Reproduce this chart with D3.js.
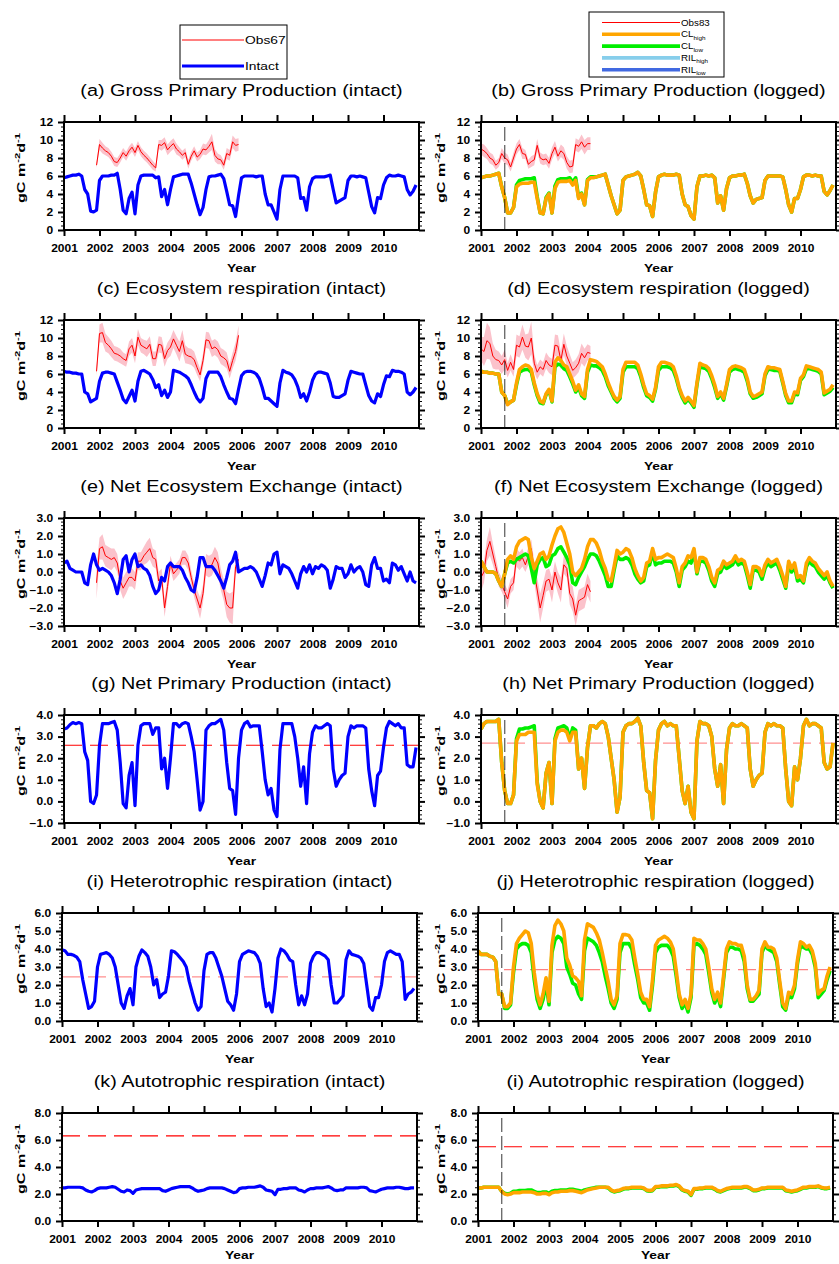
<!DOCTYPE html>
<html lang="en">
<head>
<meta charset="UTF-8">
<title>Carbon fluxes - intact and logged forest</title>
<script src="https://d3js.org/d3.v7.min.js"></script>
<style>
  body {margin:0;background:#fff;}
  svg text {font-family:"Liberation Sans", Arial, Helvetica, sans-serif;fill:#000;}
  .tick text {font-size:10px;font-weight:bold;}
  .title {font-size:16.5px;}
  .axis-title {font-size:11.5px;font-weight:bold;}
  .ylab {font-size:11.5px;font-weight:bold;}
</style>
</head>
<body>
<svg id="chart" width="839" height="1264"></svg>
<script>
// ---- data (monthly, Jan 2001 .. Dec 2010) ----
const months = d3.range(120).map(i => 2001 + i / 12);
const years = d3.range(2001, 2011);
const loggingDate = 2001.67;

const gppIntact = [
  5.8,5.9,6.0,6.1,6.1,6.2,6.0,4.5,4.0,2.1,2.0,2.2,
  5.5,6.0,6.0,6.0,6.1,6.1,6.3,4.5,2.2,1.8,3.5,4.2,
  1.8,5.0,6.0,6.1,6.1,6.1,6.1,5.8,5.9,3.7,4.5,2.8,
  4.5,5.9,6.0,6.1,6.2,6.2,6.2,5.2,4.0,2.8,1.7,2.5,
  4.5,5.9,6.0,6.0,6.1,6.2,5.7,4.3,2.8,2.7,1.5,3.8,
  5.8,6.0,6.0,6.0,6.0,5.9,6.0,6.0,4.0,2.8,2.8,2.0,
  1.2,4.5,6.0,6.0,6.0,6.0,6.0,5.8,3.5,3.6,2.2,4.8,
  5.7,5.9,5.9,5.9,5.9,6.0,6.1,4.5,3.0,3.2,3.4,3.6,
  5.5,6.0,6.0,5.9,6.0,5.9,5.8,4.2,2.6,1.9,3.6,3.5,
  5.0,5.8,6.1,6.0,6.0,6.1,6.0,5.9,4.5,3.9,4.3,5.0];
const gppLoggedHigh = [
  5.8,5.9,6.0,6.0,6.1,6.2,6.3,4.8,3.6,1.9,1.9,2.5,
  4.8,5.1,5.2,5.2,5.2,5.3,5.3,3.5,1.9,1.8,3.5,4.0,
  1.9,4.6,5.3,5.4,5.4,5.4,5.5,5.0,5.5,3.5,4.0,2.8,
  5.5,5.8,5.8,5.9,6.0,6.1,6.2,5.0,3.8,2.8,1.8,2.2,
  5.5,5.9,6.0,6.1,6.2,6.4,6.0,4.5,2.8,2.7,1.5,4.2,
  5.9,6.1,6.2,6.1,6.1,6.1,6.2,6.1,4.0,2.8,2.6,1.6,
  1.2,4.8,6.0,6.0,6.1,6.0,6.1,5.8,3.0,3.8,2.2,4.6,
  5.8,6.0,6.0,6.1,6.1,6.2,5.2,3.8,3.0,3.4,3.5,3.6,
  5.5,6.0,6.0,6.0,6.0,6.0,5.9,4.5,2.8,2.0,3.5,3.5,
  4.5,5.9,6.1,6.1,6.0,6.1,6.0,6.0,4.3,3.9,4.4,5.0];
const gppLoggedLow = [
  5.8,5.9,6.0,6.0,6.1,6.2,6.3,4.8,3.6,1.9,1.9,2.5,
  5.0,5.5,5.6,5.7,5.7,5.7,5.8,3.7,1.9,1.8,3.6,4.1,
  1.9,4.9,5.6,5.7,5.7,5.7,5.8,5.3,5.8,3.6,4.1,2.8,
  5.6,5.9,5.9,5.9,6.0,6.1,6.2,5.0,3.8,2.8,1.8,2.2,
  5.5,5.9,6.0,6.1,6.2,6.4,6.0,4.5,2.8,2.7,1.5,4.2,
  5.9,6.1,6.2,6.1,6.1,6.1,6.2,6.1,4.0,2.8,2.6,1.6,
  1.2,4.8,6.0,6.0,6.1,6.0,6.1,5.8,3.0,3.8,2.2,4.6,
  5.8,6.0,6.0,6.1,6.1,6.2,5.2,3.8,3.0,3.4,3.5,3.6,
  5.5,6.0,6.0,6.0,6.0,6.0,5.9,4.5,2.8,2.0,3.5,3.5,
  4.5,5.9,6.1,6.1,6.0,6.1,6.0,6.0,4.3,3.9,4.4,5.0];
const gppObs67 = [7.2,9.5,9.1,8.8,8.6,8.2,7.6,7.5,8.0,8.6,8.2,8.8,9.2,8.6,9.4,8.7,8.3,8.0,7.6,7.2,6.9,9.5,9.4,9.7,8.9,
  9.3,9.6,9.0,8.7,8.3,8.6,7.3,8.2,8.8,8.1,8.4,9.0,8.9,9.3,9.8,8.3,7.9,7.8,7.2,8.5,8.3,9.8,9.4,9.5];
const gppObs67Sd = [0.3,0.6,0.6,0.5,0.5,0.5,0.5,0.5,0.5,0.5,0.5,0.5,0.5,0.5,0.5,0.5,0.5,0.5,0.5,0.5,0.4,0.5,0.6,0.6,0.6,
  0.6,0.6,0.6,0.5,0.5,0.5,0.5,0.5,0.5,0.5,0.5,0.6,0.6,0.7,0.9,0.7,0.6,0.5,0.5,0.6,0.6,0.7,0.7,0.7];
const gppObs83 = [9.0,8.8,8.5,8.0,7.8,7.2,7.5,8.5,8.0,7.8,7.0,8.0,9.0,9.5,8.5,8.4,7.3,7.6,7.8,
  9.4,8.0,7.8,7.9,7.4,8.5,9.2,8.2,8.8,8.5,7.5,7.0,7.1,9.5,9.3,9.8,9.2,9.6,9.6];
const gppObs83Sd = [0.6,0.7,0.6,0.6,0.6,0.5,0.5,0.6,0.6,0.6,0.5,0.6,0.6,0.6,0.6,0.5,0.5,0.6,0.6,
  0.7,0.6,0.6,0.6,0.6,0.7,0.7,0.6,0.7,0.7,0.7,0.7,0.7,0.7,0.7,0.8,0.8,0.7,0.7];

const recoIntact = [
  6.3,6.2,6.2,6.1,6.1,6.0,6.0,4.0,3.8,2.9,3.1,3.3,
  5.2,6.1,6.2,6.2,6.1,6.0,5.1,4.2,3.2,2.8,3.5,4.2,
  3.0,5.2,6.3,6.4,6.2,6.0,5.4,4.5,4.8,3.6,4.2,3.4,
  4.0,6.4,6.3,6.2,6.0,5.8,5.5,4.8,4.0,3.3,2.9,3.3,
  5.5,6.2,6.2,6.2,6.2,5.7,4.8,4.0,3.3,3.2,2.7,4.3,
  5.8,6.2,6.3,6.3,6.2,6.0,5.5,4.5,3.3,3.3,3.0,2.7,
  2.4,5.0,6.4,6.2,6.1,5.9,5.4,4.6,3.4,3.8,3.0,4.0,
  5.3,6.0,6.2,6.2,6.1,6.0,5.0,3.5,3.4,3.4,3.6,3.8,
  5.3,6.3,6.2,6.1,6.0,6.0,4.8,3.6,3.0,2.8,3.8,3.5,
  4.8,5.8,5.7,6.4,6.3,6.3,6.2,6.0,4.0,3.7,4.0,4.5];
const recoLoggedHigh = [
  6.3,6.2,6.2,6.1,6.1,6.0,6.0,4.0,3.6,2.6,2.9,3.1,
  5.0,6.5,6.8,7.0,6.9,6.5,5.0,3.8,3.0,2.8,3.8,4.3,
  3.0,7.3,7.8,7.5,7.0,6.8,6.0,5.2,4.2,4.8,3.8,3.5,
  6.5,7.6,7.5,7.4,7.1,6.8,6.0,5.0,4.2,3.5,3.1,3.5,
  6.5,7.3,7.3,7.3,7.3,7.0,6.0,4.8,3.8,3.6,3.2,4.5,
  6.8,7.3,7.3,7.2,7.1,6.8,5.8,4.5,3.6,3.0,3.4,3.0,
  2.5,5.0,7.2,7.0,6.9,6.6,5.8,4.8,3.5,4.0,3.3,4.8,
  6.5,6.8,6.9,6.8,6.7,6.5,5.5,4.0,3.5,3.6,3.8,4.0,
  6.0,6.8,6.7,6.7,6.6,6.5,5.2,3.8,3.0,3.0,4.0,3.9,
  5.5,5.9,6.9,6.8,6.7,6.6,6.5,6.2,3.9,4.1,4.3,4.8];
const recoLoggedLow = [
  6.3,6.2,6.2,6.1,6.1,6.0,6.0,4.0,3.6,2.7,2.9,3.1,
  4.8,6.2,6.4,6.5,6.5,6.2,4.8,3.6,2.8,2.7,3.7,4.2,
  2.9,6.8,7.1,7.0,6.6,6.4,5.7,4.9,4.0,4.5,3.6,3.3,
  6.2,7.0,6.9,6.9,6.7,6.4,5.7,4.7,4.0,3.3,2.9,3.3,
  6.2,6.8,6.8,6.8,6.8,6.6,5.7,4.5,3.6,3.4,3.0,4.3,
  6.4,6.8,6.8,6.8,6.7,6.4,5.5,4.3,3.4,2.8,3.2,2.8,
  2.3,4.8,6.8,6.7,6.6,6.3,5.5,4.5,3.3,3.8,3.1,4.6,
  6.2,6.5,6.6,6.5,6.4,6.2,5.2,3.8,3.3,3.4,3.6,3.8,
  5.8,6.5,6.5,6.4,6.4,6.3,5.0,3.6,2.8,2.8,3.8,3.7,
  5.3,5.7,6.6,6.6,6.5,6.4,6.3,6.0,3.7,3.9,4.1,4.5];
const recoObs67 = [6.3,10.5,10.6,9.5,9.2,8.8,8.3,8.2,8.0,7.7,7.5,8.8,9.2,8.0,10.1,9.2,9.0,8.8,9.3,7.7,7.7,9.3,9.2,7.7,8.6,
  9.0,9.9,9.2,8.5,9.7,8.2,8.0,7.9,7.6,6.7,5.9,7.5,9.8,9.7,8.8,9.0,8.7,8.0,7.8,7.5,6.3,7.5,8.5,10.3];
const recoObs67Sd = [0.5,1.0,1.1,1.0,0.9,0.9,0.8,0.8,0.8,0.7,0.7,0.8,0.8,0.8,0.9,0.8,0.8,0.9,0.9,0.8,0.8,0.9,0.9,0.9,0.9,
  1.0,1.0,1.0,1.1,1.2,1.0,0.9,0.9,0.9,0.8,0.7,0.8,0.9,0.9,0.9,0.9,0.9,0.9,0.9,0.9,0.8,0.9,1.0,1.1];
const recoObs83 = [8.8,8.5,9.7,9.4,8.0,7.6,7.5,7.0,7.6,6.4,7.3,6.5,9.2,9.0,10.1,9.1,9.0,10.0,7.2,
  6.2,6.8,6.5,7.5,7.0,6.8,9.2,9.1,7.5,9.3,8.0,7.2,6.4,6.7,7.2,8.3,7.8,8.4,8.3];
const recoObs83Sd = [1.3,1.6,2.0,1.8,1.4,1.1,1.0,1.0,1.1,0.8,0.9,0.8,1.2,1.2,1.4,1.3,1.5,1.8,1.0,
  0.8,0.8,0.8,0.9,0.9,0.9,1.2,1.2,1.0,1.2,1.1,1.0,0.9,0.9,1.0,1.1,1.0,0.9,0.8];

const neeIntact = [
  0.5,0.6,0.2,0.1,0.0,0.0,0.0,-0.6,-0.7,0.4,1.0,0.4,
  0.1,0.2,0.1,0.0,-0.2,-0.6,-1.2,-0.4,0.7,0.9,0.0,0.7,
  1.0,0.3,0.4,0.2,0.1,-0.2,-0.8,-1.2,-1.0,-0.3,-0.5,0.3,
  0.5,0.3,0.3,0.3,0.1,-0.3,-0.6,-1.0,-1.1,-0.3,0.8,0.8,
  0.3,0.3,0.3,0.1,-0.2,-0.5,-0.9,-0.3,0.4,0.6,1.1,0.0,
  0.1,0.2,0.2,0.3,0.2,0.0,-0.4,-0.8,-0.2,0.5,0.4,1.0,
  1.1,-0.1,0.4,0.3,0.2,-0.1,-0.5,-0.9,-0.1,0.3,0.0,0.4,
  -0.1,0.3,0.2,0.4,0.3,0.1,-0.9,-0.4,0.3,0.2,0.2,-0.3,
  -0.1,0.4,0.0,0.2,0.3,0.0,-0.7,-0.8,0.4,0.8,0.2,0.2,
  -0.5,-0.4,-0.6,0.5,0.4,0.1,0.3,-0.1,-0.5,0.0,-0.5,-0.6];
const neeLoggedHigh = [
  0.6,0.3,0.0,0.0,0.0,-0.1,-0.5,-0.8,-0.1,0.7,0.9,0.7,
  1.4,1.7,1.8,1.9,1.8,0.8,0.2,0.6,1.0,1.1,0.7,0.9,
  1.5,2.0,2.4,2.5,2.2,1.6,1.0,0.0,-0.2,0.0,0.2,0.7,
  1.4,1.8,1.8,1.6,1.2,0.6,0.2,-0.4,-0.5,0.3,1.2,1.0,
  1.1,1.3,1.2,0.8,0.2,-0.2,-0.5,-0.3,0.5,0.6,1.3,0.7,
  0.8,0.8,0.9,1.0,0.9,0.8,0.2,-0.6,0.3,0.5,0.9,0.8,
  1.3,0.0,0.8,0.8,0.7,0.3,-0.3,-0.6,0.1,0.2,0.6,0.4,
  0.5,0.6,0.9,0.6,0.7,0.6,0.0,-0.7,0.3,0.3,0.2,-0.2,
  0.4,0.7,0.5,0.6,0.7,0.3,-0.2,-0.8,0.6,0.2,0.5,-0.3,
  -0.2,-0.5,0.5,0.8,0.6,0.5,0.2,0.0,-0.2,0.0,-0.5,-0.8];
const neeLoggedLow = [
  0.6,0.3,0.0,0.0,0.0,-0.1,-0.5,-0.8,-0.1,0.5,0.6,0.5,
  0.7,0.8,0.9,1.0,0.9,0.2,-0.6,0.4,0.7,0.8,0.3,0.4,
  0.9,1.0,1.3,1.4,1.1,0.8,0.4,-0.6,-0.7,-0.3,0.0,0.3,
  0.7,1.0,1.0,0.9,0.6,0.2,-0.2,-0.8,-0.8,0.1,0.9,0.7,
  0.7,0.8,0.7,0.4,-0.1,-0.4,-0.6,-0.5,0.3,0.4,1.1,0.4,
  0.5,0.5,0.6,0.6,0.6,0.5,0.0,-0.8,0.1,0.3,0.6,0.5,
  1.1,-0.1,0.6,0.6,0.5,0.1,-0.5,-0.8,-0.1,0.0,0.4,0.2,
  0.3,0.4,0.7,0.4,0.5,0.4,-0.2,-0.9,0.1,0.1,0.0,-0.4,
  0.2,0.5,0.3,0.4,0.5,0.1,-0.4,-0.9,0.4,0.0,0.3,-0.5,
  -0.4,-0.6,0.3,0.6,0.4,0.3,0.0,-0.2,-0.4,-0.2,-0.6,-0.9];
const neeObs67 = [-0.6,1.3,1.4,0.9,0.8,0.7,0.8,0.5,-0.5,-0.9,-0.6,-0.3,-0.3,-0.5,0.6,0.6,0.9,1.1,1.3,0.8,0.7,-0.5,-0.3,-2.0,-0.8,
  0.5,-0.1,0.1,0.3,0.8,0.8,0.5,-0.3,-1.0,-1.5,-2.0,-1.2,0.4,0.3,0.4,0.8,0.5,-0.4,-1.0,-1.8,-2.0,-2.0,0.3,0.7];
const neeObs67Sd = [0.9,0.6,0.7,0.6,0.6,0.6,0.5,0.5,0.5,0.6,0.6,0.5,0.5,0.5,0.5,0.5,0.5,0.6,0.6,0.5,0.5,0.5,0.5,0.5,0.5,
  0.4,0.4,0.4,0.4,0.4,0.4,0.4,0.4,0.4,0.5,0.6,0.5,0.6,0.6,0.6,0.6,0.6,0.6,0.6,0.7,0.8,0.9,0.5,0.4];
const neeObs83 = [-0.3,0.0,1.2,1.7,1.0,0.3,-0.4,-0.7,-1.1,-1.5,-0.8,-0.6,0.8,0.6,0.8,0.4,0.9,1.3,0.0,
  -1.0,-2.0,-1.3,-0.5,-0.4,-1.0,0.0,-0.6,-1.0,0.4,0.2,-1.2,-1.5,-2.4,-1.6,-1.5,-1.4,-0.7,-1.1];
const neeObs83Sd = [0.8,0.6,0.6,0.8,0.6,0.5,0.4,0.4,0.4,0.5,0.4,0.4,0.5,0.5,0.5,0.4,0.5,0.5,0.6,
  0.7,0.8,0.7,0.6,0.6,0.7,0.6,0.6,0.7,0.5,0.5,0.6,0.7,0.6,0.6,0.6,0.6,0.6,0.6];

const nppIntact = [
  3.35,3.4,3.55,3.65,3.6,3.65,3.6,2.3,1.9,0.0,-0.1,0.3,
  2.6,3.6,3.6,3.6,3.65,3.7,3.3,1.8,-0.1,-0.3,1.2,1.8,
  -0.2,2.6,3.5,3.6,3.6,3.6,3.1,3.4,3.4,1.5,2.0,0.6,
  2.0,3.6,3.6,3.45,3.6,3.65,3.6,3.0,2.3,1.0,-0.4,0.0,
  3.3,3.5,3.6,3.6,3.7,3.8,3.3,1.8,0.6,0.5,-0.6,2.0,
  3.3,3.6,3.7,3.45,3.5,3.5,3.5,2.3,1.0,0.3,0.6,-0.4,
  -0.7,2.4,3.6,3.6,3.6,3.6,3.0,2.0,0.7,1.6,-0.1,2.2,
  3.2,3.5,3.4,3.4,3.5,3.6,3.5,1.5,0.7,1.0,1.2,1.3,
  3.0,3.5,3.4,3.5,3.5,3.5,3.4,1.5,0.5,-0.2,1.2,1.4,
  2.5,3.4,3.7,3.6,3.5,3.6,3.4,3.4,1.7,1.6,1.6,2.5];
const nppLoggedHigh = [
  3.35,3.6,3.7,3.7,3.7,3.7,3.8,1.8,0.5,-0.1,-0.1,0.3,
  2.8,3.1,3.1,3.1,3.2,3.2,3.2,0.8,0.0,-0.3,1.3,1.8,
  -0.1,2.8,3.2,3.3,3.3,3.2,2.8,3.2,3.2,1.5,2.0,0.6,
  2.5,3.5,3.5,3.4,3.6,3.7,3.6,3.0,2.0,1.0,-0.5,0.2,
  3.2,3.5,3.6,3.6,3.7,3.85,3.5,1.8,0.5,0.4,-0.8,1.9,
  3.3,3.6,3.7,3.5,3.6,3.5,3.5,2.0,0.5,-0.1,0.7,-0.5,
  -0.8,2.8,3.7,3.6,3.6,3.5,3.0,1.5,0.7,1.7,-0.1,2.4,
  3.4,3.6,3.5,3.5,3.6,3.5,3.4,1.5,0.7,1.0,1.2,1.3,
  3.2,3.6,3.5,3.6,3.5,3.5,3.4,1.5,0.0,-0.2,1.6,1.0,
  2.0,3.5,3.8,3.5,3.6,3.6,3.5,3.4,1.8,1.5,1.6,2.7];
const nppLoggedLow = [
  3.35,3.6,3.7,3.7,3.7,3.7,3.8,1.8,0.5,-0.1,-0.1,0.3,
  2.9,3.35,3.35,3.4,3.4,3.45,3.5,0.9,0.0,-0.3,1.3,1.8,
  -0.1,2.9,3.4,3.45,3.5,3.4,2.9,3.4,3.3,1.5,2.0,0.6,
  2.5,3.5,3.5,3.4,3.6,3.7,3.6,3.0,2.0,1.0,-0.5,0.2,
  3.2,3.5,3.6,3.6,3.7,3.85,3.5,1.8,0.5,0.4,-0.8,1.9,
  3.3,3.6,3.7,3.5,3.6,3.5,3.5,2.0,0.5,-0.1,0.7,-0.5,
  -0.8,2.8,3.7,3.6,3.6,3.5,3.0,1.5,0.7,1.7,-0.1,2.4,
  3.4,3.6,3.5,3.5,3.6,3.5,3.4,1.5,0.7,1.0,1.2,1.3,
  3.2,3.6,3.5,3.6,3.5,3.5,3.4,1.5,0.0,-0.2,1.6,1.0,
  2.0,3.5,3.8,3.5,3.6,3.6,3.5,3.4,1.8,1.5,1.6,2.7];

const rhIntact = [
  3.95,3.9,3.7,3.7,3.65,3.55,3.3,2.3,1.5,0.7,0.8,1.1,
  3.0,3.7,3.75,3.8,3.7,3.5,3.0,2.0,1.0,0.7,1.4,1.8,
  0.9,3.0,3.6,3.95,3.8,3.6,3.0,2.0,2.3,1.3,1.5,1.6,
  2.5,3.9,3.85,3.7,3.5,3.3,3.0,2.2,1.6,1.0,0.6,0.8,
  2.8,3.7,3.8,3.8,3.5,3.0,2.5,1.8,1.1,0.9,0.6,1.5,
  3.3,3.7,3.8,3.9,3.85,3.8,3.6,3.2,1.8,0.8,1.0,0.5,
  1.8,3.5,4.0,3.9,3.7,3.4,3.3,2.0,0.9,1.4,0.9,1.5,
  3.2,3.6,3.8,3.8,3.7,3.6,3.4,2.0,1.0,1.0,1.2,1.4,
  3.4,3.9,3.7,3.65,3.6,3.5,3.2,2.0,0.8,0.6,1.3,1.3,
  2.0,3.3,3.8,3.9,3.8,3.7,3.7,3.3,1.2,1.5,1.6,1.8];
const rhLoggedHigh = [
  3.9,3.7,3.7,3.7,3.6,3.55,3.3,1.5,1.5,0.8,0.8,1.0,
  3.0,4.3,4.6,4.8,5.0,4.9,4.3,2.7,1.5,0.9,1.5,2.4,
  1.1,4.2,5.3,5.6,5.4,5.0,3.5,3.1,2.5,2.4,2.2,1.4,
  4.5,5.4,5.3,5.2,4.9,4.5,3.8,3.0,2.2,1.2,0.9,1.4,
  4.3,4.8,4.8,4.75,4.5,3.5,2.6,1.6,1.2,1.2,0.8,2.3,
  4.2,4.5,4.6,4.7,4.6,4.4,4.0,2.8,1.5,0.9,1.2,0.7,
  1.5,4.6,4.5,4.5,4.3,4.0,3.0,1.8,1.2,1.6,1.0,2.5,
  4.0,4.4,4.3,4.3,4.2,4.2,3.6,2.0,1.2,1.2,1.4,1.7,
  4.0,4.4,4.1,4.1,4.0,3.5,2.2,1.0,0.7,1.6,1.5,2.0,
  3.4,4.4,4.3,4.1,4.2,3.9,3.2,1.5,1.7,1.8,2.5,3.0];
const rhLoggedLow = [
  3.9,3.7,3.7,3.7,3.6,3.55,3.3,1.5,1.5,0.7,0.7,0.9,
  2.7,4.0,4.2,4.3,4.3,4.2,3.8,2.3,1.2,0.7,1.2,2.1,
  0.9,3.8,4.5,4.7,4.6,4.3,3.0,2.6,2.1,2.0,1.5,1.2,
  3.9,4.6,4.5,4.4,4.2,3.8,3.3,2.5,1.8,1.0,0.7,1.2,
  3.8,4.3,4.3,4.3,4.0,3.1,2.3,1.3,1.0,1.0,0.6,2.0,
  3.8,4.1,4.2,4.2,4.2,4.0,3.6,2.5,1.3,0.7,1.0,0.5,
  1.3,4.2,4.3,4.2,4.0,3.7,2.7,1.6,1.0,1.4,0.8,2.3,
  3.8,4.1,4.1,4.0,4.0,3.9,3.3,1.8,1.1,1.1,1.3,1.5,
  3.8,4.2,4.0,3.9,3.8,3.3,2.0,0.8,0.6,1.4,1.3,1.8,
  3.2,4.2,4.1,4.0,4.0,3.7,3.0,1.3,1.5,1.7,2.3,2.8];

const raIntact = [
  2.45,2.45,2.5,2.5,2.5,2.5,2.5,2.45,2.3,2.2,2.15,2.25,
  2.4,2.45,2.45,2.45,2.5,2.55,2.5,2.35,2.2,2.15,2.3,2.25,
  2.05,2.3,2.35,2.4,2.4,2.4,2.4,2.4,2.4,2.4,2.25,2.2,
  2.3,2.4,2.45,2.5,2.55,2.55,2.55,2.55,2.45,2.3,2.2,2.25,
  2.3,2.4,2.45,2.45,2.45,2.45,2.45,2.4,2.3,2.2,2.1,2.15,
  2.4,2.45,2.45,2.5,2.5,2.5,2.55,2.6,2.5,2.3,2.25,2.2,
  1.95,2.35,2.35,2.4,2.4,2.45,2.45,2.45,2.3,2.25,2.15,2.3,
  2.4,2.4,2.45,2.45,2.45,2.5,2.55,2.45,2.3,2.25,2.3,2.3,
  2.45,2.45,2.45,2.45,2.45,2.5,2.5,2.45,2.25,2.2,2.15,2.25,
  2.35,2.4,2.45,2.45,2.45,2.5,2.5,2.45,2.4,2.4,2.45,2.45];
const raLoggedHigh = [
  2.45,2.45,2.5,2.5,2.5,2.5,2.5,2.5,2.2,2.0,1.95,2.0,
  2.1,2.1,2.1,2.15,2.15,2.15,2.15,2.1,2.0,2.0,2.05,2.05,
  1.95,2.1,2.15,2.15,2.2,2.2,2.2,2.25,2.25,2.2,2.15,2.1,
  2.2,2.3,2.35,2.4,2.45,2.5,2.5,2.5,2.5,2.3,2.2,2.25,
  2.3,2.4,2.45,2.45,2.5,2.5,2.5,2.5,2.45,2.3,2.25,2.3,
  2.55,2.55,2.6,2.6,2.6,2.65,2.65,2.7,2.6,2.35,2.25,2.2,
  1.95,2.4,2.4,2.45,2.45,2.5,2.5,2.5,2.4,2.25,2.2,2.3,
  2.4,2.45,2.5,2.5,2.5,2.5,2.55,2.55,2.45,2.3,2.3,2.35,
  2.45,2.45,2.5,2.5,2.5,2.5,2.5,2.5,2.3,2.25,2.2,2.25,
  2.3,2.4,2.5,2.5,2.55,2.55,2.55,2.6,2.5,2.45,2.45,2.5];
const raLoggedLow = [
  2.45,2.45,2.5,2.5,2.5,2.5,2.5,2.5,2.2,2.05,2.0,2.05,
  2.2,2.2,2.25,2.25,2.25,2.3,2.3,2.2,2.1,2.1,2.15,2.15,
  2.05,2.2,2.25,2.25,2.3,2.3,2.3,2.35,2.35,2.3,2.25,2.2,
  2.3,2.35,2.4,2.45,2.5,2.5,2.5,2.5,2.45,2.25,2.15,2.2,
  2.25,2.35,2.4,2.4,2.45,2.45,2.45,2.45,2.4,2.25,2.2,2.25,
  2.5,2.5,2.55,2.55,2.55,2.6,2.6,2.65,2.55,2.3,2.2,2.15,
  1.9,2.35,2.35,2.4,2.4,2.45,2.45,2.45,2.35,2.2,2.15,2.25,
  2.35,2.4,2.45,2.45,2.45,2.45,2.5,2.5,2.4,2.25,2.25,2.3,
  2.4,2.4,2.45,2.45,2.45,2.45,2.45,2.45,2.25,2.2,2.15,2.2,
  2.25,2.35,2.45,2.45,2.5,2.5,2.5,2.55,2.45,2.4,2.4,2.45];

// long-term reference levels (dashed red)
const refLevels = {g: 2.6, h: 2.7, i: 2.45, j: 2.85, k: 6.3, l: 5.5};

const obs67Months = months.slice(11, 60);
const obs83Months = months.slice(0, 38);

// ---- styling ----
const BLUE = "#0000ff", ORANGE = "#ffa500", GREEN = "#00ee00", RED = "#ff0000",
      BAND = "#fbc2cb", SKY = "#87ceeb", ROYAL = "#4169e1";
const SX = 1.2; // horizontal stretch of the lettering

const svg = d3.select("#chart");
const rowTop = [122, 320, 518, 715, 913, 1113];
const plotH = 108;

const panels = [
  {id:"a", row:0, col:0, title:"(a) Gross Primary Production (intact)", yd:[0,12], step:2, minor:0.5, fmt:"d",
   lines:[{v:gppIntact, c:BLUE}], obs:{t:obs67Months, v:gppObs67, sd:gppObs67Sd}},
  {id:"b", row:0, col:1, title:"(b) Gross Primary Production (logged)", yd:[0,12], step:2, minor:0.5, fmt:"d",
   lines:[{v:gppLoggedLow, c:GREEN},{v:gppLoggedHigh, c:ORANGE}], obs:{t:obs83Months, v:gppObs83, sd:gppObs83Sd}, logged:true},
  {id:"c", row:1, col:0, title:"(c) Ecosystem respiration (intact)", yd:[0,12], step:2, minor:0.5, fmt:"d",
   lines:[{v:recoIntact, c:BLUE}], obs:{t:obs67Months, v:recoObs67, sd:recoObs67Sd}},
  {id:"d", row:1, col:1, title:"(d) Ecosystem respiration (logged)", yd:[0,12], step:2, minor:0.5, fmt:"d",
   lines:[{v:recoLoggedLow, c:GREEN},{v:recoLoggedHigh, c:ORANGE}], obs:{t:obs83Months, v:recoObs83, sd:recoObs83Sd}, logged:true},
  {id:"e", row:2, col:0, title:"(e) Net Ecosystem Exchange (intact)", yd:[-3,3], step:1, minor:0.2, fmt:".1f",
   lines:[{v:neeIntact, c:BLUE}], obs:{t:obs67Months, v:neeObs67, sd:neeObs67Sd}},
  {id:"f", row:2, col:1, title:"(f) Net Ecosystem Exchange (logged)", yd:[-3,3], step:1, minor:0.2, fmt:".1f",
   lines:[{v:neeLoggedLow, c:GREEN},{v:neeLoggedHigh, c:ORANGE}], obs:{t:obs83Months, v:neeObs83, sd:neeObs83Sd}, logged:true},
  {id:"g", row:3, col:0, title:"(g) Net Primary Production (intact)", yd:[-1,4], step:1, minor:0.2, fmt:".1f",
   lines:[{v:nppIntact, c:BLUE}], ref:{v:refLevels.g, c:RED}},
  {id:"h", row:3, col:1, title:"(h) Net Primary Production (logged)", yd:[-1,4], step:1, minor:0.2, fmt:".1f",
   lines:[{v:nppLoggedLow, c:GREEN},{v:nppLoggedHigh, c:ORANGE}], ref:{v:refLevels.h, c:"#ff9090"}, logged:true},
  {id:"i", row:4, col:0, title:"(i) Heterotrophic respiration (intact)", yd:[0,6], step:1, minor:0.2, fmt:".1f",
   lines:[{v:rhIntact, c:BLUE}], ref:{v:refLevels.i, c:"#ff9090"}},
  {id:"j", row:4, col:1, title:"(j) Heterotrophic respiration (logged)", yd:[0,6], step:1, minor:0.2, fmt:".1f",
   lines:[{v:rhLoggedLow, c:GREEN},{v:rhLoggedHigh, c:ORANGE}], ref:{v:refLevels.j, c:"#ff8080"}, logged:true},
  {id:"k", row:5, col:0, title:"(k) Autotrophic respiration (intact)", yd:[0,8], step:2, minor:0.5, fmt:".1f",
   lines:[{v:raIntact, c:BLUE}], ref:{v:refLevels.k, c:RED}},
  {id:"l", row:5, col:1, title:"(i) Autotrophic respiration (logged)", yd:[0,8], step:2, minor:0.5, fmt:".1f",
   lines:[{v:raLoggedLow, c:GREEN},{v:raLoggedHigh, c:ORANGE}], ref:{v:refLevels.l, c:RED}, logged:true}
];

function stretched(g, x, y, str, cls, anchor) {
  return g.append("text").attr("class", cls).attr("text-anchor", anchor)
    .attr("transform", `translate(${x},${y}) scale(${SX},1)`).text(str);
}

function drawPanel(p) {
  const left = p.col === 0 ? (p.row >= 4 ? 62 : 64) : (p.row >= 4 ? 478 : 481);
  const right = left + 355;
  const top = rowTop[p.row], bottom = top + plotH;
  const x = d3.scaleLinear().domain([2001, 2011]).range([left, right]);
  const y = d3.scaleLinear().domain(p.yd).range([bottom, top]);
  const g = svg.append("g").attr("class", "panel-" + p.id);

  g.append("clipPath").attr("id", "clip-" + p.id)
    .append("rect").attr("x", left).attr("y", top).attr("width", right - left).attr("height", plotH);
  const plot = g.append("g").attr("clip-path", `url(#clip-${p.id})`);

  if (p.obs) {
    const band = d3.area()
      .x((d, i) => x(p.obs.t[i]))
      .y0((d, i) => y(d - p.obs.sd[i]))
      .y1((d, i) => y(d + p.obs.sd[i]));
    plot.append("path").datum(p.obs.v).attr("d", band).attr("fill", BAND);
    plot.append("path").datum(p.obs.v)
      .attr("d", d3.line().x((d, i) => x(p.obs.t[i])).y(d => y(d)))
      .attr("fill", "none").attr("stroke", RED).attr("stroke-width", 1);
  }
  if (p.ref) {
    plot.append("line").attr("x1", left).attr("x2", right)
      .attr("y1", y(p.ref.v)).attr("y2", y(p.ref.v))
      .attr("stroke", p.ref.c).attr("stroke-width", 1.2).attr("stroke-dasharray", "18,8");
  }
  const line = d3.line().x((d, i) => x(months[i])).y(d => y(d));
  p.lines.forEach(s => {
    plot.append("path").datum(s.v).attr("d", line)
      .attr("fill", "none").attr("stroke", s.c)
      .attr("stroke-width", s.c === BLUE ? 3.2 : 3.6)
      .attr("stroke-linejoin", "round");
  });
  if (p.logged) {
    plot.append("line").attr("x1", x(loggingDate)).attr("x2", x(loggingDate))
      .attr("y1", top + 5).attr("y2", bottom)
      .attr("stroke", "#000").attr("stroke-width", 0.8).attr("stroke-dasharray", "14,4");
  }

  // axes: ticks point outward on all four sides
  const yTicks = d3.range(p.yd[0], p.yd[1] + 1e-9, p.step);
  const yMinor = d3.range(p.yd[0], p.yd[1] + 1e-9, p.minor).filter(v => !yTicks.some(t => Math.abs(t - v) < 1e-6));
  const fmt = d3.format(p.fmt);

  const axB = g.append("g").attr("transform", `translate(0,${bottom})`)
    .call(d3.axisBottom(x).tickValues(years).tickSize(6).tickSizeOuter(0).tickPadding(9).tickFormat(d3.format("d")));
  const axT = g.append("g").attr("transform", `translate(0,${top})`)
    .call(d3.axisTop(x).tickValues(years).tickSize(7).tickSizeOuter(0).tickFormat(""));
  const axL = g.append("g").attr("transform", `translate(${left},0)`)
    .call(d3.axisLeft(y).tickValues(yTicks).tickSize(6).tickSizeOuter(0).tickPadding(3).tickFormat(fmt));
  const axR = g.append("g").attr("transform", `translate(${right},0)`)
    .call(d3.axisRight(y).tickValues(yTicks).tickSize(6).tickSizeOuter(0).tickFormat(""));
  g.append("g").attr("transform", `translate(${left},0)`)
    .call(d3.axisLeft(y).tickValues(yMinor).tickSize(3).tickSizeOuter(0).tickFormat(""));
  g.append("g").attr("transform", `translate(${right},0)`)
    .call(d3.axisRight(y).tickValues(yMinor).tickSize(3).tickSizeOuter(0).tickFormat(""));
  g.selectAll(".domain").remove();
  [axB, axT, axL, axR].forEach(a => a.selectAll(".tick line").attr("stroke-width", 2));
  axB.selectAll(".tick text").attr("transform", `scale(${SX},1)`);
  axL.selectAll(".tick text").attr("transform", `scale(${SX},1)`);

  g.append("rect").attr("x", left).attr("y", top).attr("width", right - left).attr("height", plotH)
    .attr("fill", "none").attr("stroke", "#000").attr("stroke-width", 2);

  const cx = (left + right) / 2;
  stretched(g, cx, top - 26, p.title, "title", "middle");
  stretched(g, cx, bottom + (p.row === 5 ? 38 : 42), "Year", "axis-title", "middle");

  const yl = g.append("text").attr("class", "ylab").attr("text-anchor", "middle")
    .attr("transform", `translate(${p.col === 0 ? 25 : 445},${(top + bottom) / 2 - 8}) rotate(-90)`)
    .attr("textLength", 70).attr("lengthAdjust", "spacingAndGlyphs");
  yl.append("tspan").text("gC m");
  yl.append("tspan").attr("dy", -5).attr("font-size", "8px").text("-2");
  yl.append("tspan").attr("dy", 5).text("d");
  yl.append("tspan").attr("dy", -5).attr("font-size", "8px").text("-1");
}

panels.forEach(drawPanel);

// ---- legends ----
const legendIntact = [
  {label:"Obs67", c:RED, w:1},
  {label:"Intact", c:BLUE, w:3.2}
];
const lg1 = svg.append("g");
lg1.append("rect").attr("x", 180).attr("y", 25).attr("width", 107).attr("height", 54)
  .attr("fill", "#fff").attr("stroke", "#000").attr("stroke-width", 1);
legendIntact.forEach((d, i) => {
  const yy = 40 + i * 26;
  lg1.append("line").attr("x1", 182).attr("x2", 244).attr("y1", yy).attr("y2", yy)
    .attr("stroke", d.c).attr("stroke-width", d.w);
  lg1.append("text").attr("transform", `translate(245,${yy + 4}) scale(${SX},1)`)
    .attr("font-size", "11.5px").text(d.label);
});

const legendLogged = [
  {label:"Obs83", sub:"", c:RED, w:1},
  {label:"CL", sub:"high", c:ORANGE, w:3.6},
  {label:"CL", sub:"low", c:GREEN, w:3.6},
  {label:"RIL", sub:"high", c:SKY, w:3.6},
  {label:"RIL", sub:"low", c:ROYAL, w:3.6}
];
const lg2 = svg.append("g");
lg2.append("rect").attr("x", 589).attr("y", 12).attr("width", 135).attr("height", 65)
  .attr("fill", "#fff").attr("stroke", "#000").attr("stroke-width", 1);
legendLogged.forEach((d, i) => {
  const yy = 22.5 + i * 11.8;
  lg2.append("line").attr("x1", 602).attr("x2", 680).attr("y1", yy).attr("y2", yy)
    .attr("stroke", d.c).attr("stroke-width", d.w);
  const t = lg2.append("text").attr("transform", `translate(681,${yy + 3}) scale(1.15,1)`)
    .attr("font-size", "8.5px").text(d.label);
  if (d.sub) t.append("tspan").attr("dy", 2.5).attr("font-size", "5.5px").text(d.sub);
});
</script>
</body>
</html>
